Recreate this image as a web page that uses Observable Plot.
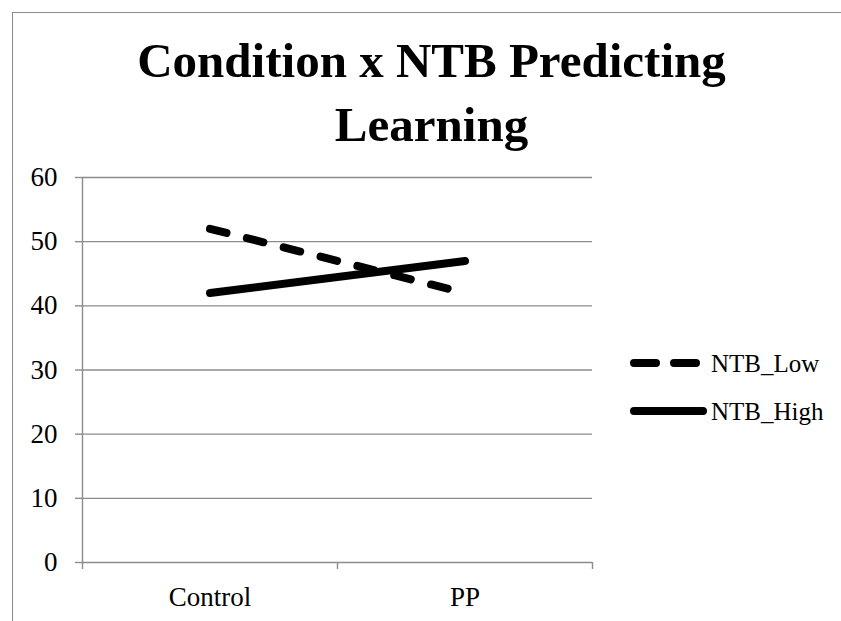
<!DOCTYPE html>
<html>
<head>
<meta charset="utf-8">
<script src="https://cdn.jsdelivr.net/npm/d3@7"></script>
<script src="https://cdn.jsdelivr.net/npm/@observablehq/plot@0.6"></script>
<style>
  html, body { margin: 0; padding: 0; background: #fff; }
  #wrap { position: relative; width: 841px; height: 621px; overflow: hidden; font-family: "Liberation Serif", serif; }
  #wrap > svg { position: absolute; left: 0; top: 0; }
  #frame { position: absolute; left: 12px; top: 12px; width: 900px; height: 700px;
           border-left: 1.4px solid #8c8c8c; border-top: 1.4px solid #8c8c8c; box-sizing: border-box; }
</style>
</head>
<body>
<div id="wrap"><div id="frame"></div></div>
<script>
// ---- data ----
const categories = ["Control", "PP"];
const seriesNames = ["NTB_Low", "NTB_High"];
const ntbLow = [52, 42];
const ntbHigh = [42, 47];
const yTicks = [0, 10, 20, 30, 40, 50, 60];
const titleLines = ["Condition x NTB Predicting", "Learning"];

const rows = [];
categories.forEach((c, i) => {
  rows.push({series: "NTB_Low", pos: i + 0.5, value: ntbLow[i]});
  rows.push({series: "NTB_High", pos: i + 0.5, value: ntbHigh[i]});
});

const gray = "#8c8c8c";
const font = "Liberation Serif";

const chart = Plot.plot({
  width: 841,
  height: 621,
  marginLeft: 82,
  marginRight: 249,
  marginTop: 177,
  marginBottom: 59,
  style: {fontFamily: font, background: "transparent", overflow: "visible"},
  x: {type: "linear", domain: [0, categories.length]},
  y: {domain: [0, 60]},
  marks: [
    Plot.ruleY(yTicks, {stroke: gray, strokeWidth: 1.4}),
    Plot.ruleX([0], {stroke: gray, strokeWidth: 1.4}),
    Plot.axisY({ticks: yTicks, tickSize: 7, tickPadding: 18, fontSize: 27, stroke: gray, fill: "black", strokeWidth: 1.4, label: null}),
    Plot.axisX({ticks: d3.range(categories.length + 1), tickSize: 7, tickFormat: () => "", stroke: gray, strokeWidth: 1.4, label: null}),
    Plot.axisX({ticks: categories.map((c, i) => i + 0.5), tickSize: 0, tickPadding: 24, fontSize: 27, fill: "black",
                tickFormat: d => categories[Math.floor(d)], label: null}),
    Plot.line(rows.filter(d => d.series === "NTB_Low"), {x: "pos", y: "value", stroke: "black", strokeWidth: 8,
      strokeLinecap: "round", strokeDasharray: "17,21"}),
    Plot.line(rows.filter(d => d.series === "NTB_High"), {x: "pos", y: "value", stroke: "black", strokeWidth: 8,
      strokeLinecap: "round"})
  ]
});
document.getElementById("wrap").appendChild(chart);

// ---- title and legend overlay ----
const over = d3.select("#wrap").append("svg")
  .attr("width", 841).attr("height", 621)
  .style("pointer-events", "none");

over.selectAll("text.title").data(titleLines).join("text")
  .attr("class", "title")
  .attr("x", 431.5)
  .attr("y", (d, i) => 77 + i * 64)
  .attr("text-anchor", "middle")
  .attr("font-family", font)
  .attr("font-weight", "bold")
  .attr("font-size", 49)
  .attr("fill", "black")
  .text(d => d);

const dashes = {"NTB_Low": "22,18", "NTB_High": null};
const leg = over.selectAll("g.leg").data(seriesNames).join("g")
  .attr("class", "leg")
  .attr("transform", (d, i) => `translate(0, ${363 + i * 48})`);
leg.append("line")
  .attr("x1", 634).attr("x2", d => dashes[d] ? 696 : 703)
  .attr("y1", 0).attr("y2", 0)
  .attr("stroke", "black").attr("stroke-width", 8)
  .attr("stroke-linecap", "round")
  .attr("stroke-dasharray", d => dashes[d]);
leg.append("text")
  .attr("x", 711).attr("y", 9)
  .attr("font-family", font).attr("font-size", 25)
  .attr("fill", "black")
  .text(d => d);
</script>
</body>
</html>
